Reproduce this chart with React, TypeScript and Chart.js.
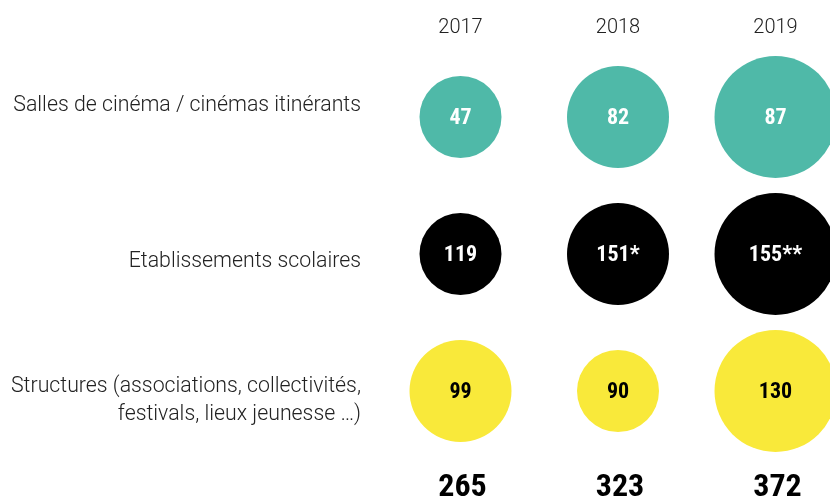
import React, { useEffect, useRef } from "react";
import { Chart, registerables } from "chart.js";

Chart.register(...registerables);

// ---- data ----
const years = ["2017", "2018", "2019"];
const rowLabels = [
  ["Salles de cinéma / cinémas itinérants"],
  ["Etablissements scolaires"],
  ["Structures (associations, collectivités,", "festivals, lieux jeunesse …)"],
];
const cinemas = [47, 82, 87];
const scolaires = [119, 151, 155];
const structures = [99, 90, 130];
const cinemasNotes = ["", "", ""];
const scolairesNotes = ["", "*", "**"];
const structuresNotes = ["", "", ""];

// ---- styles ----
const fillColors = ["#4fb9a8", "#000000", "#f9e93a"];
const textColors = ["#ffffff", "#ffffff", "#000000"];
const W = 830;
const H = 497;
const colStart = 460.5;
const colStep = 157.5;
const rowStart = 117;
const rowStep = 137;
const labelOffsets = [-11, 8, 10];
const condensed = "'Liberation Sans Narrow', 'Roboto Condensed', 'DejaVu Sans Condensed', sans-serif";
const light = "Roboto, 'Noto Sans', sans-serif";

const rows = [cinemas, scolaires, structures];
const notes = [cinemasNotes, scolairesNotes, structuresNotes];

function radiusFor(values: number[], i: number) {
  const sorted = [...values].sort((a, b) => a - b);
  const rank = sorted.indexOf(values[i]);
  return 41 + 10 * rank;
}

const labelsPlugin = {
  id: "labelsPlugin",
  afterDatasetsDraw(chart: any) {
    const ctx = chart.ctx;
    const xs = chart.scales.x;
    const ys = chart.scales.y;
    ctx.save();
    // values inside bubbles
    chart.data.datasets.forEach((ds: any, di: number) => {
      const meta = chart.getDatasetMeta(di);
      meta.data.forEach((el: any, i: number) => {
        ctx.fillStyle = textColors[di];
        ctx.font = `bold 22px ${condensed}`;
        ctx.textAlign = "center";
        ctx.textBaseline = "middle";
        ctx.fillText(String(rows[di][i]) + notes[di][i], el.x, el.y + 1);
      });
    });
    // row labels
    ctx.fillStyle = "#222222";
    ctx.font = `300 21.3px ${light}`;
    ctx.textAlign = "right";
    ctx.textBaseline = "middle";
    rowLabels.forEach((lines, ri) => {
      const cy = ys.getPixelForValue(ri) + labelOffsets[ri];
      const lh = 28;
      lines.forEach((line, li) => {
        const y = cy + (li - (lines.length - 1) / 2) * lh;
        ctx.fillText(line, 361, y);
      });
    });
    // years
    ctx.font = `300 20px ${light}`;
    ctx.textAlign = "center";
    years.forEach((yr) => {
      ctx.fillText(yr, xs.getPixelForValue(Number(yr)), 28);
    });
    // totals
    ctx.fillStyle = "#000000";
    ctx.font = `bold 32px ${condensed}`;
    ctx.textBaseline = "alphabetic";
    years.forEach((yr, i) => {
      const total = rows.reduce((s, r) => s + r[i], 0);
      ctx.fillText(String(total), xs.getPixelForValue(Number(yr)) + 2, 496);
    });
    ctx.restore();
  },
};

export default function App() {
  const ref = useRef<HTMLCanvasElement | null>(null);
  useEffect(() => {
    document.body.style.margin = "0";
    document.body.style.overflow = "hidden";
    const canvas = ref.current;
    if (!canvas) return;
    const xMin = Number(years[0]) - colStart / colStep;
    const xMax = xMin + W / colStep;
    const yMin = -rowStart / rowStep;
    const yMax = yMin + H / rowStep;
    const chart = new Chart(canvas, {
      type: "bubble",
      data: {
        datasets: rows.map((vals, ri) => ({
          label: rowLabels[ri].join(" "),
          data: years.map((yr, i) => ({ x: Number(yr), y: ri, r: radiusFor(vals, i) })),
          backgroundColor: fillColors[ri],
          borderWidth: 0,
          hoverBorderWidth: 0,
          hoverRadius: 0,
          clip: false,
        })),
      },
      options: {
        responsive: false,
        animation: false,
        layout: { padding: 0, autoPadding: false },
        plugins: { legend: { display: false }, tooltip: { enabled: false } },
        events: [],
        scales: {
          x: { type: "linear", display: false, min: xMin, max: xMax },
          y: { type: "linear", display: false, reverse: true, min: yMin, max: yMax },
        },
      },
      plugins: [labelsPlugin],
    });
    return () => chart.destroy();
  }, []);
  return (
    <div style={{ width: W, height: H, overflow: "hidden" }}>
      <canvas ref={ref} width={W} height={H} style={{ display: "block" }} />
    </div>
  );
}
